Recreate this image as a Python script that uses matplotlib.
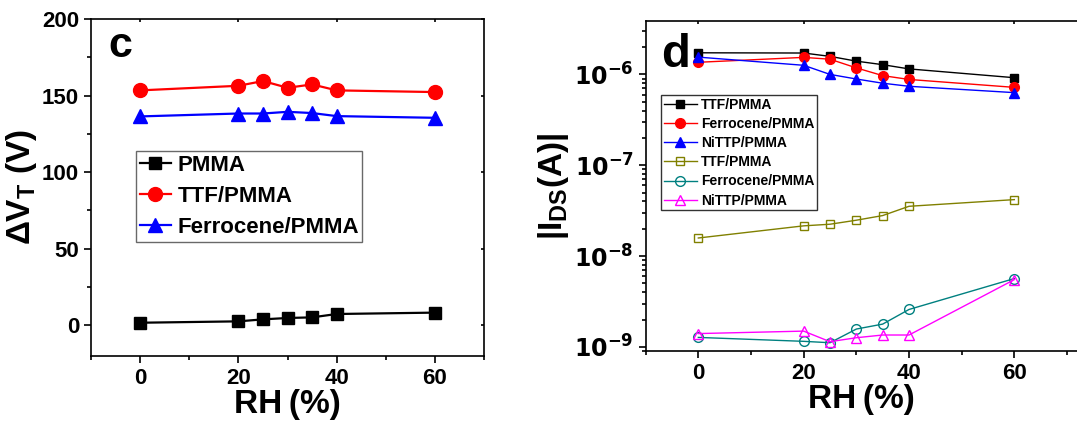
import numpy as np
import matplotlib
matplotlib.use('Agg')
from matplotlib import pyplot as plt
from matplotlib import rcParams, ticker
from matplotlib import lines as mlines

rcParams['font.family'] = 'Liberation Sans'
rcParams['font.weight'] = 'bold'
rcParams['axes.linewidth'] = 1.2
rcParams['mathtext.fontset'] = 'custom'
rcParams['mathtext.rm'] = 'Liberation Sans:bold'
rcParams['mathtext.default'] = 'regular'

#%% data
rh = [0, 20, 25, 30, 35, 40, 60]

# panel c: threshold voltage shift (V)
dvt_pmma = [1.7, 2.6, 3.9, 4.8, 5.2, 7.4, 8.3]
dvt_ttf = [153.4, 156.4, 159.5, 155.1, 157.3, 153.4, 152.3]
dvt_fc = [136.4, 138.3, 138.3, 139.4, 138.6, 136.6, 135.5]

# panel d: |I_DS| (A)
ids_ttf = [1.73e-6, 1.72e-6, 1.58e-6, 1.40e-6, 1.28e-6, 1.15e-6, 9.2e-7]
ids_fc = [1.36e-6, 1.54e-6, 1.47e-6, 1.18e-6, 9.7e-7, 8.8e-7, 7.2e-7]
ids_ni = [1.55e-6, 1.26e-6, 1.0e-6, 8.9e-7, 8.0e-7, 7.4e-7, 6.3e-7]
ids_ttf2 = [1.58e-8, 2.15e-8, 2.24e-8, 2.48e-8, 2.79e-8, 3.53e-8, 4.18e-8]
ids_fc2 = [1.27e-9, 1.15e-9, 1.11e-9, 1.57e-9, 1.78e-9, 2.58e-9, 5.65e-9]
ids_ni2 = [1.40e-9, 1.49e-9, 1.14e-9, 1.26e-9, 1.35e-9, 1.35e-9, 5.5e-9]

#%%
fig = plt.figure(figsize=(10.77, 4.32), dpi=100)
ax1 = fig.add_axes([0.0845, 0.176, 0.365, 0.780])
ax2 = fig.add_axes([0.5995, 0.1875, 0.401, 0.7645])


def style_ticks(ax, right=False):
    ax.tick_params(which='both', direction='out', labelsize=16, width=1.2)
    ax.tick_params(which='major', length=5)
    ax.tick_params(which='minor', length=3)
    ax.tick_params(axis='x', which='major', top=True)
    ax.tick_params(axis='x', which='minor', top=False)
    ax.tick_params(axis='y', which='major', right=right)
    ax.tick_params(axis='y', which='minor', right=False)
    # mirrored ticks point inward and are short
    for t in ax.xaxis.get_major_ticks():
        t.tick2line.set_marker(mlines.TICKDOWN)
        t.tick2line.set_markersize(2)
    for t in ax.yaxis.get_major_ticks():
        t.tick2line.set_marker(mlines.TICKLEFT)
        t.tick2line.set_markersize(2)
    for lab in ax.get_xticklabels() + ax.get_yticklabels():
        lab.set_fontweight('bold')


# ---- panel c
ax1.plot(rh, dvt_pmma, '-s', color='k', lw=1.6, ms=9, label='PMMA')
ax1.plot(rh, dvt_ttf, '-o', color='#ff0000', lw=1.6, ms=10, label='TTF/PMMA')
ax1.plot(rh, dvt_fc, '-^', color='#0000ff', lw=1.6, ms=10, label='Ferrocene/PMMA')
ax1.set_xlim(-10, 70)
ax1.set_ylim(-20, 200)
ax1.set_xticks([0, 20, 40, 60])
ax1.set_xticks([-10, 10, 30, 50, 70], minor=True)
ax1.set_yticks([0, 50, 100, 150, 200])
ax1.yaxis.set_minor_locator(ticker.MultipleLocator(25))
style_ticks(ax1, right=True)
ax1.set_xlabel('RH\u2009(%)', fontsize=24, fontweight='bold', labelpad=0)
ax1.set_ylabel(r'$\Delta V_T$ (V)', fontsize=24, fontweight='bold', labelpad=2)
ax1.text(0.043, 0.887, 'c', transform=ax1.transAxes, fontsize=31,
         fontweight='bold', va='baseline', ha='left')
leg1 = ax1.legend(loc='upper left', bbox_to_anchor=(0.115, 0.607), fontsize=16,
                  frameon=True, fancybox=False, edgecolor='#444444',
                  handlelength=1.4, handletextpad=0.3, borderpad=0.15,
                  labelspacing=0.46, borderaxespad=0)
leg1.get_frame().set_linewidth(1)
for t in leg1.get_texts():
    t.set_fontweight('bold')

# ---- panel d
ax2.semilogy(rh, ids_ttf, '-s', color='k', lw=1, ms=6, label='TTF/PMMA')
ax2.semilogy(rh, ids_fc, '-o', color='#ff0000', lw=1, ms=7, label='Ferrocene/PMMA')
ax2.semilogy(rh, ids_ni, '-^', color='#0000ff', lw=1, ms=7, label='NiTTP/PMMA')
ax2.semilogy(rh, ids_ttf2, '-s', color='#808000', mfc='none', lw=1, ms=6,
             label='TTF/PMMA')
ax2.semilogy(rh, ids_fc2, '-o', color='#008080', mfc='none', lw=1, ms=7,
             label='Ferrocene/PMMA')
ax2.semilogy(rh, ids_ni2, '-^', color='#ff00ff', mfc='none', lw=1, ms=7,
             label='NiTTP/PMMA')
ax2.set_xlim(-10, 72)
ax2.set_ylim(9e-10, 3.9e-6)
ax2.set_xticks([0, 20, 40, 60])
ax2.set_xticks([-10, 10, 30, 50, 70], minor=True)
ax2.spines['right'].set_visible(False)
ax2.yaxis.set_major_locator(ticker.LogLocator(base=10, numticks=10))
ax2.yaxis.set_minor_locator(ticker.LogLocator(base=10, subs=np.arange(2, 10), numticks=20))
ax2.yaxis.set_minor_formatter(ticker.NullFormatter())
ax2.yaxis.set_major_formatter(ticker.FuncFormatter(
    lambda v, p: r'$\mathbf{10^{%d}}$' % round(np.log10(v))))
style_ticks(ax2)
ax2.tick_params(axis='y', labelsize=17)
ax2.set_xlabel('RH\u2009(%)', fontsize=24, fontweight='bold', labelpad=0)
ax2.set_ylabel(r'$|I_{DS}(A)|$', fontsize=24, fontweight='bold', labelpad=2)
ax2.text(0.035, 0.86, 'd', transform=ax2.transAxes, fontsize=34,
         fontweight='bold', va='baseline', ha='left')
leg2 = ax2.legend(loc='upper left', bbox_to_anchor=(0.035, 0.775), fontsize=10,
                  frameon=True, fancybox=False, edgecolor='k',
                  handlelength=2.4, handletextpad=0.3, borderpad=0.2,
                  labelspacing=0.37, borderaxespad=0)
leg2.get_frame().set_linewidth(1)
for t in leg2.get_texts():
    t.set_fontweight('bold')

fig.savefig('out.png', dpi=100)
